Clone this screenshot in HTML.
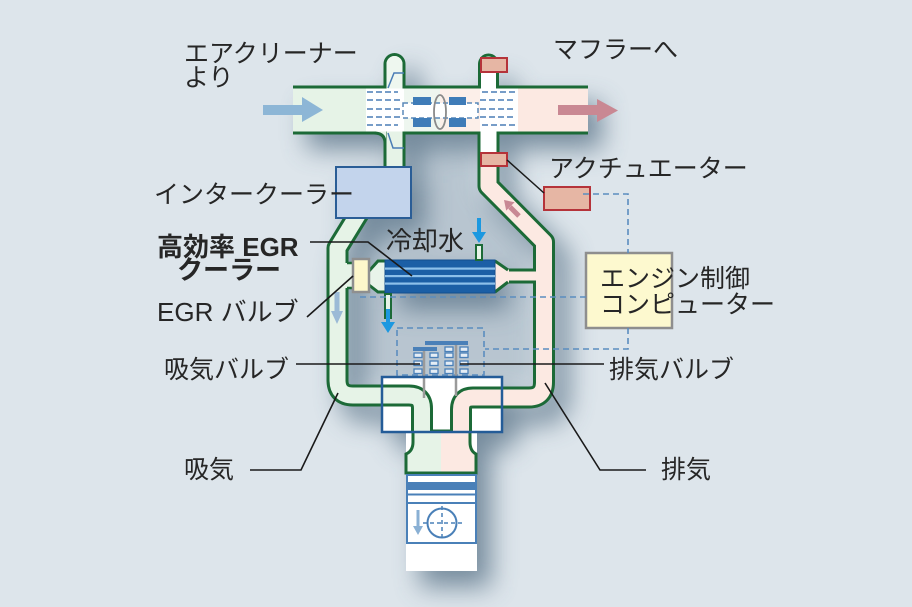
<!DOCTYPE html>
<html><head><meta charset="utf-8">
<style>
html,body{margin:0;padding:0;background:#dde5eb;width:912px;height:607px;overflow:hidden}
svg{display:block}
text{font-family:"Liberation Sans","Noto Sans CJK JP",sans-serif;fill:#262626;font-size:25px}
.b{font-weight:bold;font-size:26px}
</style></head>
<body>
<svg width="912" height="607" viewBox="0 0 912 607" xmlns="http://www.w3.org/2000/svg">
<defs>
<filter id="blur" x="-30%" y="-30%" width="160%" height="160%"><feGaussianBlur stdDeviation="13"/></filter>
<filter id="blur2" x="-30%" y="-30%" width="160%" height="160%"><feGaussianBlur stdDeviation="10"/></filter>
<linearGradient id="ch" x1="0" x2="1" y1="0" y2="0"><stop offset="0.5" stop-color="#e6f3e7"/><stop offset="0.5" stop-color="#fce9e2"/></linearGradient>
</defs>
<rect width="912" height="607" fill="#dde5eb"/>

<!-- interior shading -->
<path d="M349,250 L372,220 L406,220 L406,135 L478,135 L478,190 L533,247 L533,384 L349,384 Z" fill="#7d93a5" opacity="0.38" filter="url(#blur2)"/>
<!-- shadow -->
<g filter="url(#blur)" transform="translate(14,16)" opacity="0.72">
 <rect x="293" y="87" width="295" height="46" fill="#4f6a80"/>
 <g fill="none" stroke="#4f6a80" stroke-width="22" stroke-linejoin="round">
  <path d="M362,208 L337.5,248 L337.5,380 Q337.5,395.5 353,395.5 L409,395.5 Q422,395.5 422,408.5 L422,433"/>
  <path d="M488.5,64 L488.5,186 L544,242 L544,382 Q544,397.5 529,397.5 L473,397.5 Q461,397.5 461,409.5 L461,433"/>
  <path d="M394.5,64 V172" stroke-linecap="round"/>
 </g>
 <rect x="336" y="167" width="75" height="51" fill="#4f6a80"/>
 <rect x="385" y="260" width="110" height="33" fill="#4f6a80"/>
 <rect x="382" y="377" width="120" height="55" fill="#4f6a80"/>
 <rect x="406" y="432" width="71" height="139" fill="#4f6a80"/>
</g>

<!-- head box white fill -->
<rect x="382" y="377" width="120" height="55" fill="#fff"/>

<!-- tube walls -->
<g fill="none" stroke="#1c6a37" stroke-linejoin="round">
 <path d="M362,208 L337.5,248 L337.5,380 Q337.5,395.5 353,395.5 L409,395.5 Q422,395.5 422,408.5 L422,433" stroke-width="22"/>
 <path d="M488.5,110 L488.5,186 L544,242 L544,382 Q544,397.5 529,397.5 L473,397.5 Q461,397.5 461,409.5 L461,433" stroke-width="22"/>
 <path d="M488.5,64 V112" stroke-width="21" stroke-linecap="round"/>
 <path d="M394.5,64 V172" stroke-width="22" stroke-linecap="round"/>
 <path d="M508,276 L540,276" stroke-width="15"/>
</g>
<!-- tube fills -->
<g fill="none" stroke-linejoin="round">
 <path d="M362,208 L337.5,248 L337.5,380 Q337.5,395.5 353,395.5 L409,395.5 Q422,395.5 422,408.5 L422,433" stroke-width="16" stroke="#e6f3e7"/>
 <path d="M488.5,110 L488.5,186 L544,242 L544,382 Q544,397.5 529,397.5 L473,397.5 Q461,397.5 461,409.5 L461,433" stroke-width="16" stroke="#fce9e2"/>
 <path d="M488.5,110 V160" stroke-width="16" stroke="#fff"/>
 <path d="M488.5,64 V112" stroke-width="15" stroke-linecap="round" stroke="#fff"/>
 <path d="M394.5,64 V172" stroke-width="16" stroke-linecap="round" stroke="#e6f3e7"/>
 <path d="M394.5,64 V90" stroke-width="16" stroke-linecap="round" stroke="#eef7ef"/>
 <path d="M506,276 L546,276" stroke-width="9" stroke="#fce9e2"/>
</g>
<!-- fillet left tube -->
<path d="M374,131.5 L386,131.5 L386,143 Q385,133 374,133 Z" fill="#e6f3e7"/>
<path d="M374,133 Q385,133 385,143" fill="none" stroke="#1c6a37" stroke-width="3"/>

<!-- top pipe -->
<rect x="293" y="88.5" width="75" height="43" fill="#e6f3e7"/>
<rect x="366" y="88.5" width="38" height="43" fill="#fff"/>
<rect x="404" y="88.5" width="36" height="43" fill="#eef6ef"/>
<rect x="440" y="88.5" width="40" height="43" fill="#fcefe9"/>
<rect x="480" y="88.5" width="38" height="43" fill="#fff"/>
<rect x="518" y="88.5" width="70" height="43" fill="#fce9e2"/>
<g stroke="#1c6a37" stroke-width="3">
 <line x1="293" y1="87" x2="385" y2="87"/><line x1="404" y1="87" x2="479" y2="87"/><line x1="498" y1="87" x2="588" y2="87"/>
 <line x1="293" y1="133" x2="376" y2="133"/><line x1="404" y1="133" x2="479" y2="133"/><line x1="498" y1="133" x2="588" y2="133"/>
</g>
<!-- compressor / turbine detail -->
<g stroke="#4a7db5" stroke-width="1.6" stroke-dasharray="6 3" fill="none">
 <line x1="367" y1="92" x2="398" y2="92"/><line x1="367" y1="100" x2="400" y2="100"/><line x1="367" y1="109" x2="400" y2="109"/><line x1="367" y1="117" x2="400" y2="117"/><line x1="367" y1="125" x2="398" y2="125"/>
 <line x1="482" y1="92" x2="516" y2="92"/><line x1="480" y1="100" x2="516" y2="100"/><line x1="480" y1="109" x2="516" y2="109"/><line x1="480" y1="117" x2="516" y2="117"/><line x1="482" y1="125" x2="516" y2="125"/>
</g>
<path d="M404,73 L394,73 L388,88 M388,133 L393,148 L404,148" fill="none" stroke="#4a7db5" stroke-width="1.5"/>
<rect x="403" y="103" width="75" height="15" fill="#fff" stroke="#5a88b8" stroke-width="1.5" stroke-dasharray="5 3"/>
<g fill="#3f7cb8">
 <rect x="413" y="97" width="18" height="8"/><rect x="413" y="118" width="18" height="9"/>
 <rect x="449" y="97" width="17" height="8"/><rect x="449" y="118" width="17" height="9"/>
</g>
<ellipse cx="440" cy="112" rx="6" ry="17" fill="none" stroke="#8a8a8a" stroke-width="1.8"/>

<!-- chamber -->
<rect x="406" y="432" width="71" height="42" fill="#fff"/>
<path d="M413,431 L413,442 Q413,451 406,454 L406,473 L476,473 L476,454 Q470,451 470,442 L470,431" fill="url(#ch)" stroke="#1c6a37" stroke-width="3"/>
<line x1="430" y1="431" x2="453" y2="431" stroke="#1c6a37" stroke-width="3"/>

<!-- EGR cooler -->
<path d="M495,261 L509,269.5 L509,282.5 L495,292 Z" fill="#fce9e2"/>
<path d="M495,261 L508,270 M508,282 L495,292" stroke="#1c6a37" stroke-width="3" fill="none"/>
<path d="M386,261 L378,261 L369,271 L369,285 L378,292 L386,292 Z" fill="#e8f4ea"/>
<path d="M386,261 L378,261 L369,271 M369,285 L378,292 L386,292" stroke="#1c6a37" stroke-width="3" fill="none"/>
<rect x="385" y="260" width="110" height="33" fill="#1b5fa6" stroke="#134f8f" stroke-width="1"/>
<rect x="385" y="267.5" width="110" height="2.2" fill="#8cc0ea"/>
<rect x="385" y="275" width="110" height="2.2" fill="#8cc0ea"/>
<rect x="385" y="282.5" width="110" height="2.2" fill="#8cc0ea"/>
<rect x="476" y="245" width="6" height="15" fill="#e6f3e7" stroke="#1c6a37" stroke-width="2"/>
<rect x="385" y="294" width="6" height="24" fill="#e6f3e7" stroke="#1c6a37" stroke-width="2"/>
<!-- EGR valve -->
<rect x="344" y="263" width="10" height="25" fill="#e6f3e7"/>
<path d="M347,263 L354,263 M347,288 L354,288" stroke="#1c6a37" stroke-width="2.5"/>
<rect x="353" y="259" width="16" height="33" fill="#fdf7cb" stroke="#8f8f8f" stroke-width="2.5"/>

<!-- intercooler -->
<rect x="336" y="167" width="75" height="51" fill="#c3d4ec" stroke="#2a5d96" stroke-width="2"/>

<!-- valves -->
<rect x="397" y="328" width="87" height="47" fill="none" stroke="#5b8dbf" stroke-width="1.6" stroke-dasharray="6 4"/>
<rect x="413" y="347" width="24" height="4" fill="#4a80b8"/>
<rect x="425" y="341" width="43" height="4" fill="#4a80b8"/>
<line x1="424" y1="351" x2="424" y2="398" stroke="#9a9a9a" stroke-width="2.5"/>
<line x1="456" y1="345" x2="456" y2="396" stroke="#9a9a9a" stroke-width="2.5"/>
<g fill="#e4edf5" stroke="#4a80b8" stroke-width="1.3">
 <rect x="414" y="353" width="8" height="4.5"/><rect x="414" y="361" width="8" height="4.5"/><rect x="414" y="369" width="8" height="4.5"/>
 <rect x="430" y="353" width="8" height="4.5"/><rect x="430" y="361" width="8" height="4.5"/><rect x="430" y="369" width="8" height="4.5"/>
 <rect x="445" y="347" width="8" height="4.5"/><rect x="445" y="353" width="8" height="4.5"/><rect x="445" y="361" width="8" height="4.5"/><rect x="445" y="369" width="8" height="4.5"/>
 <rect x="460" y="347" width="8" height="4.5"/><rect x="460" y="353" width="8" height="4.5"/><rect x="460" y="361" width="8" height="4.5"/><rect x="460" y="369" width="8" height="4.5"/>
</g>

<!-- head box border -->
<rect x="382" y="377" width="120" height="55" fill="none" stroke="#245c98" stroke-width="2.5"/>

<!-- cylinder -->
<rect x="406" y="474" width="71" height="97" fill="#fff"/>
<rect x="407" y="475" width="69" height="68" fill="none" stroke="#4a80b8" stroke-width="2"/>
<rect x="406" y="482" width="71" height="8" fill="#4a80b8"/>
<line x1="406" y1="494.5" x2="477" y2="494.5" stroke="#4a80b8" stroke-width="2"/>
<rect x="407" y="503" width="69" height="40" fill="#fff" stroke="#4a80b8" stroke-width="2"/>
<line x1="418" y1="510" x2="418" y2="528" stroke="#8ab0d4" stroke-width="3"/>
<polygon points="413,526 423,526 418,535" fill="#8ab0d4"/>
<circle cx="442" cy="523" r="14.5" fill="none" stroke="#4a80b8" stroke-width="2"/>
<path d="M423,523 L464,523 M442,506 L442,541" stroke="#4a80b8" stroke-width="1.5" stroke-dasharray="4 3" fill="none"/>

<!-- actuators & ECU -->
<g fill="#e6b6a4" stroke="#b5333a" stroke-width="2">
 <rect x="481" y="58" width="26" height="14"/>
 <rect x="481" y="153" width="26" height="13"/>
 <rect x="544" y="187" width="46" height="23"/>
</g>
<line x1="507" y1="160" x2="544" y2="193" stroke="#1a1a1a" stroke-width="1.5"/>
<rect x="586" y="253" width="86" height="75" fill="#fdf9cf" stroke="#8e8e8e" stroke-width="2.5"/>

<!-- dashed signal lines -->
<g fill="none" stroke="#5b8dbf" stroke-width="1.6" stroke-dasharray="6 4">
 <path d="M583,194 L628,194 L628,253"/>
 <path d="M628,328 L628,349 L485,349"/>
 <path d="M360,297 L586,297"/>
</g>

<!-- arrows -->
<polygon points="263,105 302,105 302,97 323,110 302,122 302,115 263,115" fill="#8db6d6"/>
<polygon points="558,105 597,105 597,99 618,110.5 597,122 597,115 558,115" fill="#c98893"/>
<line x1="479" y1="218" x2="479" y2="234" stroke="#1b98e0" stroke-width="4"/>
<polygon points="472,232 486,232 479,243" fill="#1b98e0"/>
<line x1="388" y1="309" x2="388" y2="324" stroke="#1b98e0" stroke-width="4"/>
<polygon points="381,322 395,322 388,333" fill="#1b98e0"/>
<line x1="337" y1="292" x2="337" y2="313" stroke="#9bbad6" stroke-width="5"/>
<polygon points="331,311 343,311 337,324" fill="#9bbad6"/>
<line x1="519" y1="216" x2="510" y2="207" stroke="#c88894" stroke-width="5"/>
<polygon points="504,200 514.6,202.2 506.2,210.6" fill="#c88894"/>

<!-- leader lines -->
<g fill="none" stroke="#1a1a1a" stroke-width="1.6">
 <path d="M310,242 L368,242 L412,276"/>
 <path d="M307,317 L353,276"/>
 <path d="M296,364 L420,364"/>
 <path d="M460,364 L604,364"/>
 <path d="M250,470 L301,470 L338,393"/>
 <path d="M545,383 L600,470 L646,470"/>
</g>

<!-- text -->
<text x="184" y="62">エアクリーナー</text>
<text x="184" y="86">より</text>
<text x="553" y="58">マフラーへ</text>
<text x="154" y="203">インタークーラー</text>
<text x="549" y="177">アクチュエーター</text>
<text x="386" y="250" style="font-size:26px">冷却水</text>
<text x="600" y="287">エンジン制御</text>
<text x="600" y="313">コンピューター</text>
<text x="609" y="378">排気バルブ</text>
<text x="164" y="378">吸気バルブ</text>
<text x="157" y="321" style="font-size:26px">EGR バルブ</text>
<text class="b" x="157" y="256">高効率 EGR</text>
<text class="b" x="177" y="279">クーラー</text>
<text x="184" y="478">吸気</text>
<text x="661" y="478">排気</text>
</svg>
</body></html>
